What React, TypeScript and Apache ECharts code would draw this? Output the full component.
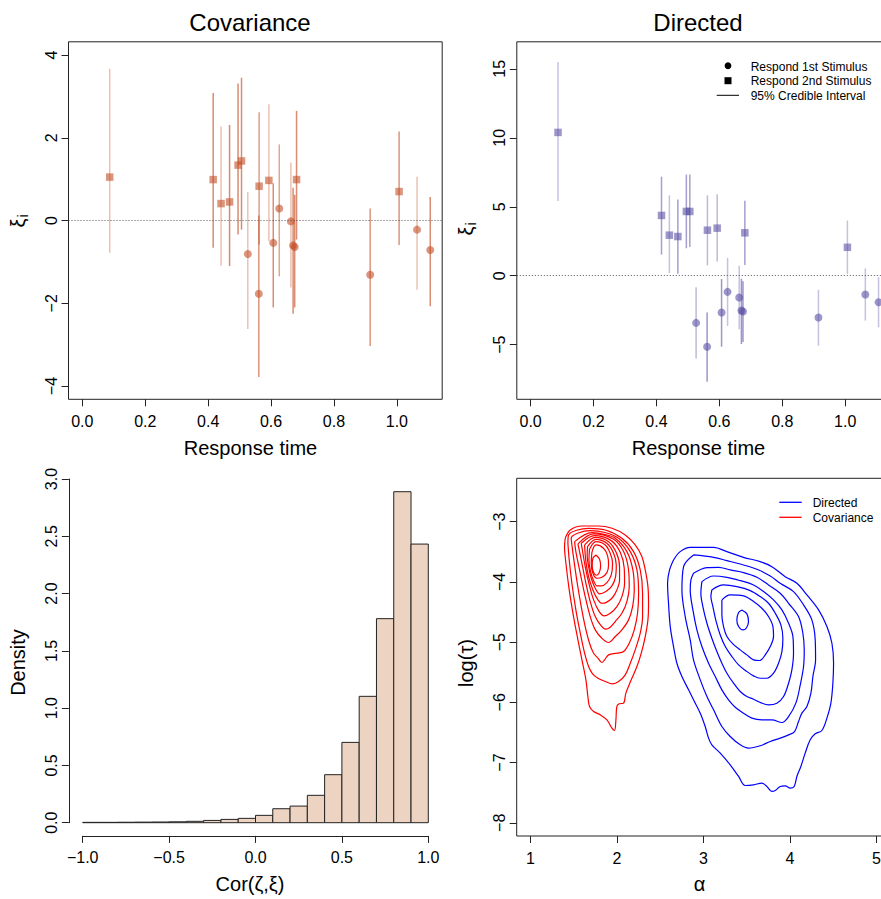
import React, { useEffect, useRef } from "react";
import * as echarts from "echarts";

// ---------- Top panels: one entry per subject ----------
const responseTime = [0.087, 0.416, 0.441, 0.468, 0.495, 0.506, 0.526, 0.562, 0.561, 0.593, 0.607, 0.626, 0.663, 0.670, 0.675, 0.681, 0.915, 1.007, 1.064, 1.106];
const respondTo = ["2nd", "2nd", "2nd", "2nd", "2nd", "2nd", "1st", "2nd", "1st", "2nd", "1st", "1st", "1st", "1st", "1st", "2nd", "1st", "2nd", "1st", "1st"];

const covMean = [1.05, 0.99, 0.41, 0.45, 1.34, 1.44, -0.81, 0.83, -1.77, 0.97, -0.54, 0.29, -0.02, -0.60, -0.64, 0.99, -1.31, 0.70, -0.22, -0.71];
const covLower = [-0.78, -0.66, -1.09, -1.10, -0.34, -0.22, -2.62, -0.58, -3.78, -0.50, -2.10, -1.35, -1.62, -2.25, -2.10, -0.46, -3.03, -0.59, -1.67, -2.07];
const covUpper = [3.67, 3.08, 2.27, 2.31, 3.31, 3.45, 0.69, 2.62, 0.12, 2.81, 0.90, 1.84, 1.40, 0.79, 0.62, 2.65, 0.29, 2.15, 1.06, 0.57];

const dirMean = [10.39, 4.37, 2.94, 2.84, 4.66, 4.66, -3.42, 3.30, -5.15, 3.45, -2.67, -1.17, -1.58, -2.52, -2.60, 3.11, -3.03, 2.06, -1.36, -1.92];
const dirLower = [5.41, 1.53, 0.19, 0.15, 1.99, 2.09, -6.00, 0.75, -7.69, 1.04, -5.15, -3.64, -3.88, -4.95, -4.80, 0.78, -5.07, 0.12, -3.25, -3.74];
const dirUpper = [15.49, 7.18, 5.83, 5.53, 7.33, 7.33, -0.83, 5.83, -2.67, 5.90, -0.24, 1.29, 0.73, -0.22, -0.40, 5.44, -1.02, 4.00, 0.53, -0.10];

// interval line opacity (style only)
const covIntervalAlpha = [0.35, 0.65, 0.35, 0.65, 0.65, 0.65, 0.35, 0.55, 0.6, 0.35, 0.65, 0.5, 0.35, 0.65, 0.65, 0.65, 0.6, 0.6, 0.35, 0.65];
const dirIntervalAlpha = [0.35, 0.55, 0.35, 0.55, 0.55, 0.55, 0.4, 0.4, 0.6, 0.4, 0.6, 0.35, 0.35, 0.6, 0.6, 0.55, 0.35, 0.35, 0.35, 0.35];

// ---------- Histogram ----------
const corBreaks = [-1.0, -0.9, -0.8, -0.7, -0.6, -0.5, -0.4, -0.3, -0.2, -0.1, 0.0, 0.1, 0.2, 0.3, 0.4, 0.5, 0.6, 0.7, 0.8, 0.9, 1.0];
const corDensity = [0.003, 0.003, 0.004, 0.005, 0.006, 0.008, 0.012, 0.020, 0.029, 0.038, 0.064, 0.122, 0.145, 0.239, 0.419, 0.701, 1.103, 1.781, 2.889, 2.432];

// ---------- Tick values ----------
const rtTicks = [0, 0.2, 0.4, 0.6, 0.8, 1.0];
const covTicks = [-4, -2, 0, 2, 4];
const dirTicks = [-5, 0, 5, 10, 15];
const corTicks = [-1, -0.5, 0, 0.5, 1];
const densityTicks = [0, 0.5, 1, 1.5, 2, 2.5, 3];
const alphaTicks = [1, 2, 3, 4, 5];
const logTauTicks = [-8, -7, -6, -5, -4, -3];

// ---------- Density contours of (alpha, log tau) ----------
const covarianceContours: number[][][] = [
  [[1.401, -3.276], [1.459, -3.138], [1.594, -3.072], [1.786, -3.072], [1.941, -3.110], [2.095, -3.221], [2.210, -3.387], [2.287, -3.580], [2.326, -3.802], [2.357, -4.078], [2.364, -4.355], [2.357, -4.631], [2.326, -4.908], [2.280, -5.184], [2.230, -5.406], [2.164, -5.627], [2.102, -5.848], [2.075, -6.014], [2.025, -6.025], [1.998, -6.069], [1.987, -6.291], [1.971, -6.468], [1.941, -6.429], [1.883, -6.291], [1.806, -6.208], [1.729, -6.152], [1.682, -6.069], [1.663, -5.904], [1.640, -5.627], [1.594, -5.295], [1.548, -4.963], [1.497, -4.576], [1.447, -4.134], [1.409, -3.691], [1.393, -3.414]],
  [[1.432, -3.359], [1.440, -3.221], [1.671, -3.110], [1.864, -3.138], [2.056, -3.276], [2.191, -3.497], [2.268, -3.802], [2.295, -4.189], [2.295, -4.576], [2.268, -4.853], [2.210, -5.129], [2.153, -5.350], [2.095, -5.544], [2.018, -5.655], [1.948, -5.693], [1.864, -5.655], [1.779, -5.599], [1.717, -5.527], [1.671, -5.406], [1.625, -5.184], [1.575, -4.853], [1.524, -4.465], [1.478, -4.023], [1.447, -3.636]],
  [[1.478, -3.387], [1.470, -3.276], [1.690, -3.149], [1.860, -3.180], [2.018, -3.276], [2.153, -3.497], [2.230, -3.802], [2.249, -4.189], [2.237, -4.521], [2.199, -4.797], [2.141, -5.019], [2.076, -5.157], [1.998, -5.184], [1.902, -5.212], [1.856, -5.295], [1.825, -5.339], [1.779, -5.267], [1.729, -5.184], [1.682, -5.019], [1.632, -4.742], [1.586, -4.410], [1.540, -4.023], [1.501, -3.636]],
  [[1.509, -3.332], [1.709, -3.182], [1.850, -3.210], [1.979, -3.276], [2.114, -3.497], [2.183, -3.802], [2.199, -4.134], [2.180, -4.410], [2.133, -4.631], [2.056, -4.797], [1.979, -4.908], [1.902, -5.007], [1.825, -4.936], [1.748, -4.797], [1.690, -4.576], [1.632, -4.244], [1.575, -3.857], [1.524, -3.497]],
  [[1.548, -3.370], [1.729, -3.204], [1.960, -3.293], [2.076, -3.497], [2.133, -3.802], [2.141, -4.078], [2.114, -4.327], [2.056, -4.521], [1.979, -4.659], [1.921, -4.753], [1.871, -4.786], [1.817, -4.731], [1.748, -4.576], [1.690, -4.327], [1.640, -4.023], [1.594, -3.691]],
  [[1.586, -3.359], [1.740, -3.232], [1.933, -3.315], [2.037, -3.509], [2.083, -3.774], [2.087, -4.023], [2.056, -4.244], [1.998, -4.410], [1.921, -4.521], [1.852, -4.565], [1.794, -4.493], [1.729, -4.299], [1.679, -4.051], [1.632, -3.746], [1.602, -3.497]],
  [[1.625, -3.387], [1.748, -3.260], [1.902, -3.332], [1.991, -3.514], [2.029, -3.746], [2.029, -3.968], [1.998, -4.134], [1.941, -4.272], [1.871, -4.344], [1.825, -4.355], [1.779, -4.299], [1.721, -4.134], [1.671, -3.912], [1.640, -3.663]],
  [[1.659, -3.415], [1.756, -3.293], [1.883, -3.359], [1.960, -3.525], [1.991, -3.719], [1.983, -3.912], [1.941, -4.067], [1.871, -4.161], [1.798, -4.200], [1.748, -4.106], [1.702, -3.940], [1.671, -3.746], [1.655, -3.553]],
  [[1.682, -3.459], [1.756, -3.332], [1.864, -3.387], [1.921, -3.525], [1.948, -3.691], [1.933, -3.885], [1.883, -4.012], [1.817, -4.067], [1.771, -4.067], [1.733, -3.995], [1.694, -3.829], [1.675, -3.636]],
  [[1.709, -3.514], [1.756, -3.387], [1.844, -3.442], [1.891, -3.569], [1.902, -3.719], [1.883, -3.846], [1.825, -3.923], [1.767, -3.940], [1.721, -3.857], [1.702, -3.691]],
  [[1.756, -3.553], [1.798, -3.625], [1.810, -3.746], [1.790, -3.857], [1.763, -3.890], [1.729, -3.846], [1.713, -3.735], [1.721, -3.608]],
];

const directedContours: number[][][] = [
  [[2.653, -3.636], [2.730, -3.498], [2.846, -3.426], [3.116, -3.426], [3.270, -3.498], [3.462, -3.592], [3.655, -3.664], [3.790, -3.747], [3.944, -3.913], [4.079, -4.023], [4.195, -4.217], [4.330, -4.466], [4.426, -4.742], [4.484, -5.019], [4.503, -5.351], [4.495, -5.683], [4.472, -6.014], [4.426, -6.263], [4.368, -6.468], [4.291, -6.523], [4.233, -6.623], [4.175, -6.844], [4.125, -7.065], [4.079, -7.231], [4.048, -7.397], [4.002, -7.425], [3.944, -7.386], [3.886, -7.397], [3.829, -7.464], [3.790, -7.480], [3.732, -7.397], [3.674, -7.342], [3.578, -7.370], [3.482, -7.381], [3.405, -7.231], [3.308, -7.038], [3.193, -6.844], [3.096, -6.706], [3.058, -6.595], [3.019, -6.402], [2.962, -6.180], [2.884, -5.959], [2.827, -5.793], [2.750, -5.572], [2.692, -5.351], [2.653, -5.074], [2.615, -4.742], [2.595, -4.355], [2.584, -4.023], [2.607, -3.802]],
  [[2.884, -3.553], [3.116, -3.592], [3.270, -3.647], [3.462, -3.719], [3.617, -3.791], [3.771, -3.902], [3.886, -4.023], [4.040, -4.161], [4.156, -4.383], [4.252, -4.632], [4.291, -4.964], [4.295, -5.295], [4.264, -5.572], [4.241, -5.848], [4.195, -6.070], [4.137, -6.180], [4.098, -6.319], [4.052, -6.485], [3.983, -6.540], [3.886, -6.595], [3.771, -6.650], [3.655, -6.722], [3.520, -6.761], [3.424, -6.706], [3.308, -6.568], [3.212, -6.402], [3.116, -6.125], [3.039, -5.904], [2.962, -5.627], [2.884, -5.295], [2.846, -4.964], [2.788, -4.576], [2.750, -4.134], [2.769, -3.747]],
  [[2.884, -3.857], [3.039, -3.763], [3.173, -3.758], [3.308, -3.802], [3.462, -3.846], [3.617, -3.924], [3.751, -4.051], [3.886, -4.189], [3.983, -4.355], [4.098, -4.576], [4.148, -4.853], [4.164, -5.129], [4.156, -5.406], [4.118, -5.710], [4.067, -6.014], [3.983, -6.236], [3.906, -6.335], [3.790, -6.291], [3.674, -6.291], [3.559, -6.263], [3.462, -6.180], [3.366, -6.081], [3.289, -5.959], [3.212, -5.793], [3.135, -5.572], [3.058, -5.351], [2.981, -5.074], [2.923, -4.798], [2.877, -4.466], [2.846, -4.134], [2.854, -3.968]],
  [[2.981, -3.996], [3.116, -3.902], [3.270, -3.924], [3.424, -3.979], [3.578, -4.051], [3.694, -4.161], [3.809, -4.300], [3.906, -4.466], [3.983, -4.687], [4.033, -4.908], [4.040, -5.185], [4.021, -5.461], [3.983, -5.683], [3.925, -5.904], [3.848, -6.014], [3.751, -6.042], [3.674, -6.014], [3.578, -5.948], [3.501, -5.904], [3.424, -5.821], [3.347, -5.683], [3.270, -5.517], [3.212, -5.351], [3.154, -5.157], [3.096, -4.936], [3.039, -4.687], [2.992, -4.410], [2.969, -4.189]],
  [[3.096, -4.134], [3.231, -4.051], [3.385, -4.079], [3.540, -4.145], [3.655, -4.244], [3.751, -4.355], [3.829, -4.521], [3.894, -4.715], [3.917, -4.936], [3.906, -5.157], [3.867, -5.351], [3.809, -5.517], [3.732, -5.600], [3.655, -5.600], [3.578, -5.561], [3.501, -5.489], [3.405, -5.378], [3.328, -5.240], [3.251, -5.074], [3.193, -4.881], [3.146, -4.659], [3.108, -4.410], [3.085, -4.244]],
  [[3.212, -4.300], [3.308, -4.217], [3.462, -4.233], [3.578, -4.327], [3.674, -4.438], [3.751, -4.576], [3.802, -4.742], [3.809, -4.908], [3.771, -5.074], [3.713, -5.212], [3.647, -5.306], [3.578, -5.295], [3.501, -5.212], [3.424, -5.129], [3.339, -5.030], [3.270, -4.908], [3.231, -4.742], [3.212, -4.549]],
  [[3.443, -4.466], [3.501, -4.532], [3.520, -4.659], [3.493, -4.770], [3.455, -4.798], [3.405, -4.742], [3.385, -4.632], [3.405, -4.510]],
];

// ---------- styling helpers ----------
const FONT = '"Liberation Sans", Arial, Helvetica, sans-serif';
const AXIS_COLOR = "#222";
const COV_RGB = "195,78,38";
const DIR_RGB = "90,80,165";

const fmt = (d: number) => (v: number) => (v < 0 ? "\u2212" : "") + Math.abs(v).toFixed(d);

function valueAxis(gridIndex: number, min: number, max: number, ticks: number[], decimals: number, isY: boolean, lineShown = false, offset = 0) {
  return {
    type: "value",
    gridIndex,
    min,
    max,
    offset,
    splitLine: { show: false },
    axisLine: { show: lineShown, onZero: false, lineStyle: { color: AXIS_COLOR, width: 1 } },
    axisTick: { show: true, inside: false, length: 7, customValues: ticks, lineStyle: { color: AXIS_COLOR, width: 1 } },
    axisLabel: {
      show: true,
      customValues: ticks,
      formatter: fmt(decimals),
      color: "#000",
      fontSize: 16,
      fontFamily: FONT,
      margin: isY ? 9 : 14,
      rotate: isY ? 90 : 0,
    },
  };
}

function intervalSeries(axisIdx: number, lower: number[], upper: number[], alpha: number[], rgb: string) {
  return {
    type: "custom",
    xAxisIndex: axisIdx,
    yAxisIndex: axisIdx,
    silent: true,
    z: 3,
    data: responseTime.map((x, i) => [x, lower[i], upper[i]]),
    encode: { x: 0, y: [1, 2] },
    renderItem: (params: any, api: any) => {
      const a = api.coord([api.value(0), api.value(1)]);
      const b = api.coord([api.value(0), api.value(2)]);
      return {
        type: "line",
        shape: { x1: a[0], y1: a[1], x2: b[0], y2: b[1] },
        style: { stroke: `rgba(${rgb},${alpha[params.dataIndex]})`, lineWidth: 1.5 },
      };
    },
  };
}

function pointSeries(axisIdx: number, mean: number[], rgb: string) {
  return {
    type: "scatter",
    xAxisIndex: axisIdx,
    yAxisIndex: axisIdx,
    silent: true,
    z: 2,
    data: responseTime.map((x, i) => ({
      value: [x, mean[i]],
      symbol: respondTo[i] === "2nd" ? "rect" : "circle",
      symbolSize: respondTo[i] === "2nd" ? 7.5 : 8,
    })),
    itemStyle: { color: `rgba(${rgb},0.75)` },
    markLine: {
      silent: true,
      symbol: ["none", "none"],
      label: { show: false },
      lineStyle: { color: "#555", width: 1, type: [1, 2] },
      data: [{ yAxis: 0 }],
    },
  };
}

function contourSeries(contours: number[][][], color: string) {
  return contours.map((pts) => ({
    type: "line",
    xAxisIndex: 3,
    yAxisIndex: 3,
    silent: true,
    data: [...pts, pts[0]],
    showSymbol: false,
    symbol: "none",
    smooth: 0.35,
    lineStyle: { color, width: 1.2 },
  }));
}

const txt = (x: number, y: number, text: string, size: number, extra: any = {}) => ({
  type: "text",
  x,
  y,
  silent: true,
  ...extra,
  style: { text, fontSize: size, fontFamily: FONT, fill: "#000", textAlign: "center", textVerticalAlign: "middle" },
});

const leftTxt = (x: number, y: number, text: string) => ({
  type: "text",
  x,
  y,
  silent: true,
  style: { text, fontSize: 12, fontFamily: FONT, fill: "#000", textAlign: "left", textVerticalAlign: "middle" },
});

const xiLabel = (x: number, y: number) => ({
  type: "group",
  x,
  y,
  rotation: Math.PI / 2,
  silent: true,
  children: [
    { type: "text", x: -2, y: 0, style: { text: "ξ", fontSize: 20, fontFamily: FONT, fill: "#000", textAlign: "center", textVerticalAlign: "middle" } },
    { type: "text", x: 5, y: 5, style: { text: "i", fontSize: 14, fontFamily: FONT, fill: "#000", textAlign: "center", textVerticalAlign: "middle" } },
  ],
});

function buildOption() {
  const box = { show: true, borderColor: AXIS_COLOR, borderWidth: 1, backgroundColor: "transparent", outerBoundsMode: "none", containLabel: false };
  return {
    animation: false,
    backgroundColor: "#fff",
    textStyle: { fontFamily: FONT },
    grid: [
      { left: 68.5, top: 41.8, width: 373.7, height: 357.5, ...box },
      { left: 516.8, top: 41.8, width: 373.7, height: 357.5, ...box },
      { left: 82.7, top: 479, width: 345.6, height: 343.7, show: false, outerBoundsMode: "none", containLabel: false },
      { left: 516.7, top: 478.3, width: 373.7, height: 357.7, ...box },
    ],
    xAxis: [
      valueAxis(0, -0.044, 1.144, rtTicks, 1, false),
      valueAxis(1, -0.044, 1.144, rtTicks, 1, false),
      valueAxis(2, -1, 1, corTicks, 1, false, true, 13.2),
      valueAxis(3, 0.84, 5.16, alphaTicks, 0, false),
    ],
    yAxis: [
      valueAxis(0, -4.32, 4.32, covTicks, 0, true),
      valueAxis(1, -8.96, 16.96, dirTicks, 0, true),
      valueAxis(2, 0, 3, densityTicks, 1, true, true, 13.8),
      valueAxis(3, -8.22, -2.28, logTauTicks, 0, true),
    ],
    series: [
      pointSeries(0, covMean, COV_RGB),
      intervalSeries(0, covLower, covUpper, covIntervalAlpha, COV_RGB),
      pointSeries(1, dirMean, DIR_RGB),
      intervalSeries(1, dirLower, dirUpper, dirIntervalAlpha, DIR_RGB),
      {
        type: "custom",
        xAxisIndex: 2,
        yAxisIndex: 2,
        silent: true,
        data: corDensity.map((d, i) => [corBreaks[i], corBreaks[i + 1], d]),
        encode: { x: [0, 1], y: 2 },
        renderItem: (params: any, api: any) => {
          const tl = api.coord([api.value(0), api.value(2)]);
          const br = api.coord([api.value(1), 0]);
          return {
            type: "rect",
            shape: { x: tl[0], y: tl[1], width: br[0] - tl[0], height: br[1] - tl[1] },
            style: { fill: "#EDD4C2", stroke: "#222", lineWidth: 1 },
          };
        },
      },
      ...contourSeries(directedContours, "#0000FF"),
      ...contourSeries(covarianceContours, "#FF0000"),
    ],
    graphic: {
      elements: [
        txt(250, 22.4, "Covariance", 24),
        txt(698, 22.4, "Directed", 24),
        txt(250.5, 448.1, "Response time", 20),
        txt(698.5, 448.1, "Response time", 20),
        txt(250, 883.8, "Cor(ζ,ξ)", 20),
        txt(699.5, 883.8, "α", 20),
        txt(18.1, 662.5, "Density", 20, { rotation: Math.PI / 2 }),
        txt(466, 663, "log(τ)", 20, { rotation: Math.PI / 2 }),
        xiLabel(18, 221),
        xiLabel(466.3, 229),
        // legend: top-right panel
        { type: "circle", silent: true, shape: { cx: 728, cy: 65.7, r: 3.4 }, style: { fill: "#000" } },
        { type: "rect", silent: true, shape: { x: 724.5, y: 77.2, width: 7, height: 7 }, style: { fill: "#000" } },
        { type: "line", silent: true, shape: { x1: 716.7, y1: 95.3, x2: 739, y2: 95.3 }, style: { stroke: "#000", lineWidth: 1 } },
        leftTxt(750.7, 66.5, "Respond 1st Stimulus"),
        leftTxt(750.7, 81.3, "Respond 2nd Stimulus"),
        leftTxt(750.7, 95.8, "95% Credible Interval"),
        // legend: bottom-right panel
        { type: "line", silent: true, shape: { x1: 779.3, y1: 502.3, x2: 801.7, y2: 502.3 }, style: { stroke: "#0000FF", lineWidth: 1.3 } },
        { type: "line", silent: true, shape: { x1: 779.3, y1: 517.3, x2: 801.7, y2: 517.3 }, style: { stroke: "#FF0000", lineWidth: 1.3 } },
        leftTxt(812.7, 503.1, "Directed"),
        leftTxt(812.7, 518.1, "Covariance"),
      ],
    },
  };
}

export default function App() {
  const ref = useRef<HTMLDivElement>(null);
  useEffect(() => {
    if (!ref.current) return;
    const chart = echarts.init(ref.current, null, { renderer: "svg" });
    chart.setOption(buildOption() as any);
    return () => chart.dispose();
  }, []);
  return (
    <div style={{ position: "absolute", left: 0, top: 0, width: 881, height: 899, overflow: "hidden", background: "#fff" }}>
      <div ref={ref} style={{ width: 900, height: 899 }} />
    </div>
  );
}
